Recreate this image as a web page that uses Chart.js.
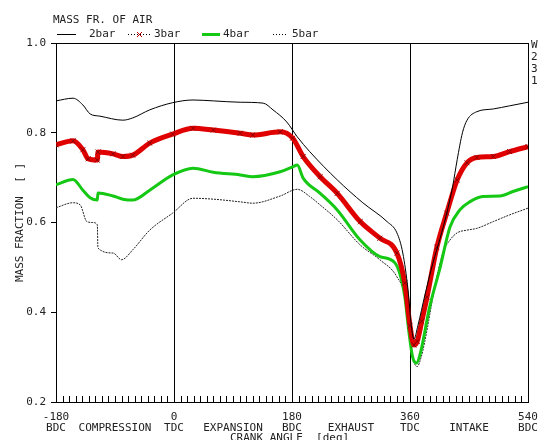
<!DOCTYPE html>
<html>
<head>
<meta charset="utf-8">
<script src="https://cdn.jsdelivr.net/npm/chart.js@4/dist/chart.umd.min.js"></script>
<style>
  body { margin: 0; background: #fff; }
  canvas { display: block; }
</style>
</head>
<body>
<canvas id="GraphAir" width="538" height="440"></canvas>
<script>
// crank angle [deg] / mass fraction of air
var ang2 = [-180,-154,-139,-128,-113,-78,-63,-37,-2,29,60,101,136,151,172,188,207,249,288,325,340,349,357,362,366,372,383,395,406,416,425,432,440,447,462,487,512,540];
var bar2 = [0.871,0.877,0.862,0.842,0.837,0.828,0.833,0.851,0.867,0.873,0.871,0.868,0.866,0.851,0.824,0.791,0.758,0.695,0.644,0.602,0.577,0.532,0.450,0.37,0.34,0.37,0.44,0.51,0.565,0.62,0.68,0.74,0.80,0.828,0.847,0.853,0.860,0.868];

var ang3 = [-180,-154,-139,-131,-117,-116,-93,-78,-63,-37,-2,29,60,101,120,162,181,197,223,249,284,314,340,352,360,366,371,378,386,401,416,432,447,462,487,512,540];
var bar3 = [0.773,0.782,0.762,0.742,0.739,0.757,0.753,0.747,0.750,0.777,0.797,0.810,0.806,0.799,0.795,0.802,0.788,0.747,0.702,0.665,0.602,0.565,0.532,0.465,0.37,0.327,0.335,0.38,0.434,0.545,0.621,0.695,0.733,0.745,0.747,0.758,0.769];

var ang4 = [-180,-154,-139,-128,-117,-116,-93,-78,-63,-37,-2,29,60,101,120,162,181,188,197,223,249,284,314,337,352,358,364,370,376,390,406,421,436,451,471,497,517,540];
var bar4 = [0.684,0.696,0.672,0.655,0.650,0.666,0.659,0.652,0.650,0.672,0.706,0.721,0.712,0.706,0.702,0.713,0.724,0.728,0.699,0.665,0.628,0.561,0.524,0.51,0.435,0.36,0.30,0.287,0.31,0.412,0.50,0.59,0.628,0.646,0.658,0.659,0.669,0.680];

var ang5 = [-180,-154,-143,-133,-124,-117,-116,-93,-80,-63,-37,-2,29,60,101,120,162,188,207,223,249,284,314,340,352,360,366,371,377,383,398,410,421,432,447,462,487,512,540];
var bar5 = [0.633,0.644,0.639,0.602,0.600,0.595,0.543,0.532,0.517,0.539,0.583,0.621,0.654,0.652,0.646,0.643,0.659,0.674,0.658,0.639,0.606,0.55,0.517,0.479,0.435,0.34,0.29,0.279,0.30,0.338,0.457,0.532,0.561,0.577,0.583,0.587,0.602,0.617,0.632];

var angTicks = [-180, 0, 180, 360, 540];
var angNames = ['BDC', 'TDC', 'BDC', 'TDC', 'BDC'];
var phases = ['COMPRESSION', 'EXPANSION', 'EXHAUST', 'INTAKE'];
var phaseAt = [-90, 90, 270, 450];

var FONT = '"DejaVu Sans Mono", monospace';

function pts(a, v){
    var out = [];
    for(var i = 0; i < a.length; i++){
        out.push({x: a[i], y: v[i]});
    }
    return out;
}

var extras = {
    id: 'extras',
    afterDraw: function(chart){
        var ctx = chart.ctx;
        var ca = chart.chartArea;
        var xs = chart.scales.x;
        ctx.save();
        ctx.strokeStyle = '#000';
        ctx.lineWidth = 1;
        // top + right frame
        ctx.beginPath();
        ctx.moveTo(ca.left, ca.top + 0.5);
        ctx.lineTo(ca.right + 0.5, ca.top + 0.5);
        ctx.lineTo(ca.right + 0.5, ca.bottom);
        ctx.stroke();
        // minor ticks every 10 deg
        ctx.beginPath();
        for(var d = -170; d < 540; d += 10){
            var px = Math.round(xs.getPixelForValue(d)) + 0.5;
            ctx.moveTo(px, ca.bottom);
            ctx.lineTo(px, ca.bottom - 6);
        }
        ctx.stroke();

        ctx.fillStyle = '#222';
        ctx.font = '11px ' + FONT;
        ctx.textBaseline = 'middle';
        ctx.textAlign = 'center';
        for(var i = 0; i < phases.length; i++){
            ctx.fillText(phases[i], xs.getPixelForValue(phaseAt[i]), 428);
        }
        ctx.textAlign = 'left';
        ctx.fillText('CRANK ANGLE  [deg]', 230, 438);

        // header + legend
        ctx.fillText('MASS FR. OF AIR', 53, 20);
        ctx.fillText('2bar', 89, 34);
        ctx.fillText('3bar', 154, 34);
        ctx.fillText('4bar', 223, 34);
        ctx.fillText('5bar', 292, 34);
        ctx.beginPath();
        ctx.moveTo(57, 34.5); ctx.lineTo(76, 34.5);
        ctx.stroke();
        ctx.setLineDash([1, 2]);
        ctx.beginPath();
        ctx.moveTo(128, 34.5); ctx.lineTo(152, 34.5);
        ctx.moveTo(273, 34.5); ctx.lineTo(287, 34.5);
        ctx.stroke();
        ctx.setLineDash([]);
        ctx.strokeStyle = '#c00000';
        ctx.beginPath();
        ctx.moveTo(137, 32); ctx.lineTo(142, 37);
        ctx.moveTo(142, 32); ctx.lineTo(137, 37);
        ctx.stroke();
        ctx.strokeStyle = 'rgb(20,200,20)';
        ctx.lineWidth = 3;
        ctx.beginPath();
        ctx.moveTo(202, 34.5); ctx.lineTo(220, 34.5);
        ctx.stroke();

        // right side, cut off
        ctx.fillStyle = '#222';
        ctx.fillText('W', 531, 45);
        ctx.fillText('2', 531, 57);
        ctx.fillText('3', 531, 69);
        ctx.fillText('1', 531, 81);

        // y title
        ctx.translate(20, (ca.top + ca.bottom) / 2);
        ctx.rotate(-Math.PI / 2);
        ctx.textAlign = 'center';
        ctx.fillText('MASS FRACTION  [ ]', 0, 0);
        ctx.restore();
    }
};

var air = document.getElementById("GraphAir");
var AirChart = new Chart(air, {
    type: 'line',
    data: {
        datasets: [
            {
                label: '2bar',
                data: pts(ang2, bar2),
                borderColor: '#000',
                borderWidth: 1,
                pointRadius: 0
            },
            {
                label: '3bar',
                data: pts(ang3, bar3),
                borderColor: '#e00000',
                borderWidth: 5,
                pointStyle: 'crossRot',
                pointRadius: 3.5,
                pointBorderColor: '#8a0000',
                pointBorderWidth: 1
            },
            {
                label: '4bar',
                data: pts(ang4, bar4),
                borderColor: 'rgb(20,200,20)',
                borderWidth: 3,
                pointRadius: 0
            },
            {
                label: '5bar',
                data: pts(ang5, bar5),
                borderColor: '#222',
                borderWidth: 1,
                borderDash: [2, 1],
                pointRadius: 0
            }
        ]
    },
    options: {
        responsive: false,
        animation: false,
        layout: { padding: { top: 43, right: 10, left: 0, bottom: 0 } },
        elements: {
            line: { cubicInterpolationMode: 'monotone' }
        },
        plugins: {
            legend: { display: false },
            tooltip: { enabled: false }
        },
        scales: {
            x: {
                type: 'linear',
                min: -180,
                max: 540,
                afterBuildTicks: function(scale){
                    scale.ticks = angTicks.map(function(v){ return {value: v}; });
                },
                afterFit: function(scale){
                    scale.height = 38;
                    scale.paddingLeft = 0;
                    scale.paddingRight = 0;
                },
                grid: { color: '#000', lineWidth: 1, drawTicks: false },
                border: { color: '#000' },
                ticks: {
                    autoSkip: false,
                    maxRotation: 0,
                    padding: 9,
                    color: '#222',
                    font: { family: FONT, size: 11, lineHeight: 1.05 },
                    callback: function(v){
                        var i = angTicks.indexOf(v);
                        return [String(v), angNames[i]];
                    }
                }
            },
            y: {
                min: 0.2,
                max: 1.0,
                afterFit: function(scale){
                    scale.width = 56;
                },
                grid: { drawOnChartArea: false, color: '#000', tickLength: 5 },
                border: { color: '#000' },
                ticks: {
                    stepSize: 0.2,
                    padding: 5,
                    color: '#222',
                    font: { family: FONT, size: 11 },
                    callback: function(v){ return v.toFixed(1); }
                }
            }
        }
    },
    plugins: [extras]
});
</script>
</body>
</html>
